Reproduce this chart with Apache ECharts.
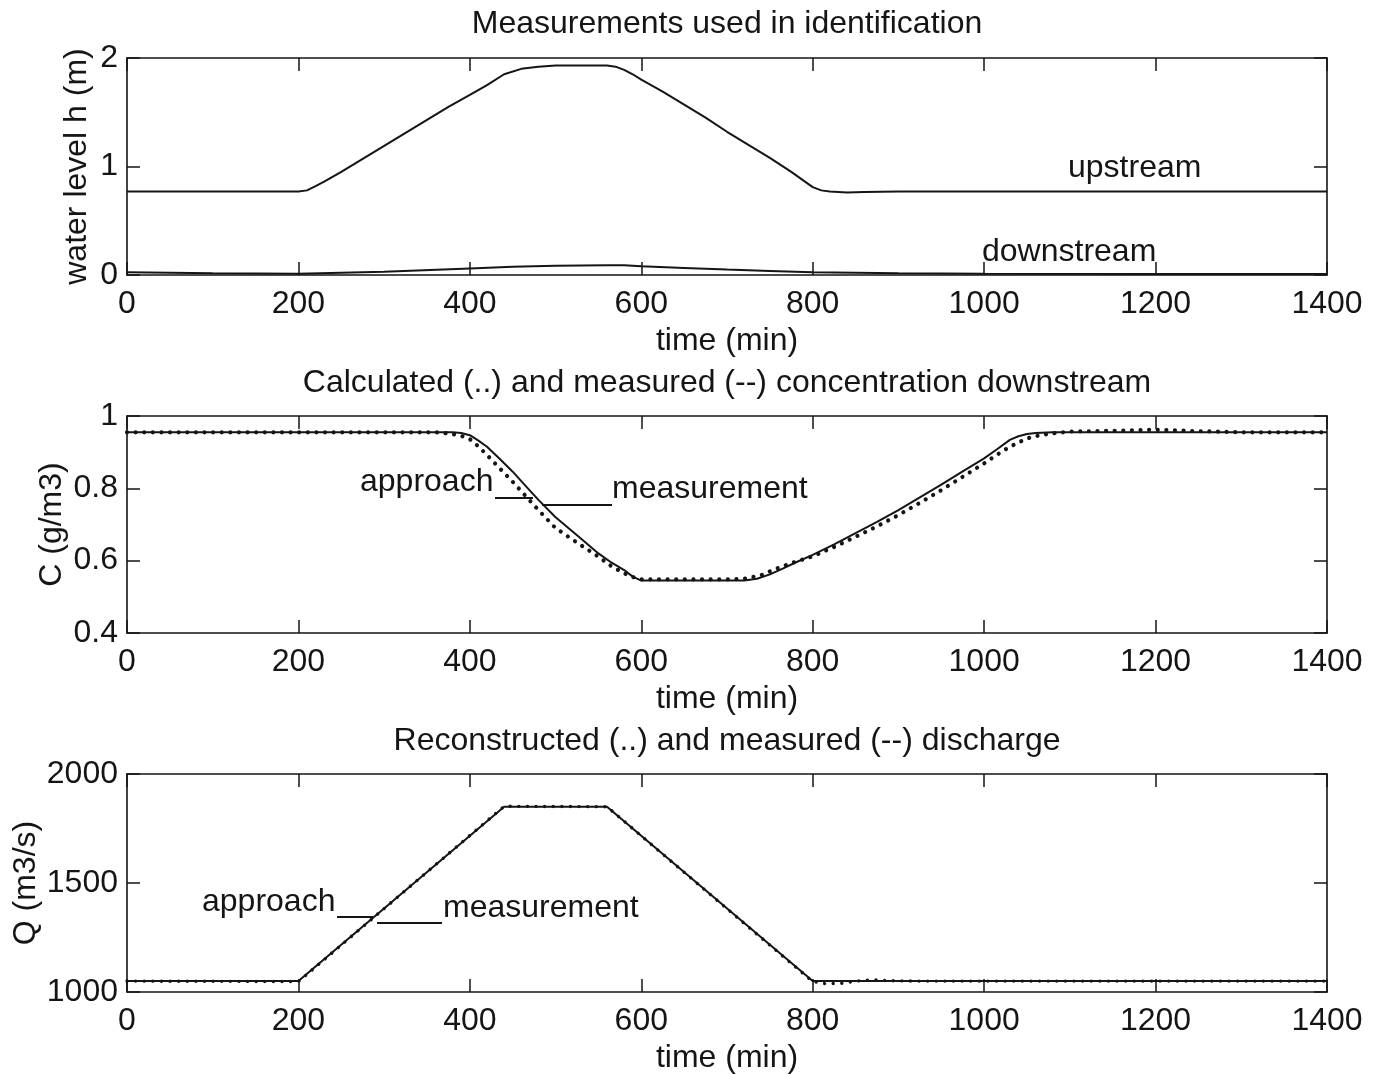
<!DOCTYPE html>
<html>
<head>
<meta charset="utf-8">
<script src="https://cdn.jsdelivr.net/npm/echarts@6/dist/echarts.min.js"></script>
<style>
  html, body { margin: 0; padding: 0; background: #fff; }
  #chart { width: 1383px; height: 1074px; }
</style>
</head>
<body>
<div id="chart"></div>
<script>
// ---- Panel 1: water levels (m) ----
const timeUp = [0,100,200,210,220,230,250,275,300,325,350,375,400,420,440,460,480,500,530,560,570,580,590,600,625,650,675,700,725,750,775,800,810,820,840,860,900,1000,1200,1400];
const upstream = [0.77,0.77,0.77,0.78,0.82,0.86,0.95,1.07,1.19,1.31,1.43,1.55,1.66,1.75,1.85,1.90,1.92,1.93,1.93,1.93,1.92,1.89,1.85,1.80,1.69,1.57,1.45,1.32,1.20,1.08,0.95,0.81,0.78,0.77,0.76,0.765,0.77,0.77,0.77,0.77];
const timeDown = [0,100,200,300,400,450,500,560,580,600,650,700,750,800,900,1000,1200,1400];
const downstream = [0.025,0.015,0.012,0.03,0.06,0.075,0.086,0.09,0.09,0.08,0.065,0.05,0.038,0.025,0.015,0.012,0.01,0.01];

// ---- Panel 2: concentration downstream (g/m3) ----
const timeCMeas = [0,200,380,390,400,410,420,435,450,465,480,500,525,550,565,580,590,600,650,700,720,735,750,765,780,800,825,850,875,900,925,950,975,1000,1015,1030,1040,1050,1060,1080,1100,1200,1300,1400];
const concMeasured = [0.955,0.955,0.955,0.953,0.947,0.932,0.915,0.881,0.846,0.807,0.768,0.72,0.67,0.62,0.595,0.574,0.556,0.545,0.545,0.545,0.545,0.55,0.562,0.578,0.595,0.616,0.645,0.676,0.707,0.74,0.775,0.81,0.847,0.883,0.908,0.934,0.944,0.95,0.953,0.955,0.955,0.955,0.955,0.955];
const timeCCalc = [0,200,360,370,380,390,400,410,420,435,450,465,480,500,525,550,565,580,590,600,650,700,720,740,760,780,800,825,850,875,900,925,950,975,1000,1015,1030,1050,1065,1080,1100,1150,1200,1250,1300,1400];
const concCalculated = [0.955,0.955,0.955,0.953,0.95,0.945,0.936,0.916,0.892,0.855,0.818,0.779,0.74,0.69,0.65,0.611,0.585,0.565,0.555,0.548,0.548,0.548,0.55,0.56,0.58,0.597,0.612,0.638,0.666,0.695,0.726,0.76,0.795,0.832,0.869,0.893,0.915,0.938,0.947,0.952,0.957,0.959,0.962,0.958,0.955,0.955];

// ---- Panel 3: discharge (m3/s) ----
const timeQMeas = [0,200,440,560,800,1400];
const dischargeMeasured = [1050,1050,1850,1850,1050,1050];
const timeQRec = [0,200,440,560,800,815,835,850,870,890,920,1000,1400];
const dischargeReconstructed = [1050,1048,1852,1850,1048,1038,1040,1050,1056,1052,1050,1050,1050];

// ---- Axis ticks ----
const timeTicks = { min: 0, max: 1400, interval: 200 };
const levelTicks = { min: 0, max: 2, interval: 1 };
const concTicks = { min: 0.4, max: 1, interval: 0.2 };
const dischargeTicks = { min: 1000, max: 2000, interval: 500 };

const titles = [
  'Measurements used in identification',
  'Calculated (..) and measured (--) concentration downstream',
  'Reconstructed (..) and measured (--) discharge'
];

const FONT = '"Liberation Sans", Arial, sans-serif';
const FS = 32;
const INK = '#151515';

const pairs = (xs, ys) => xs.map((x, i) => [x, ys[i]]);
const plain = v => String(Math.round(v * 1000) / 1000);

const grids = [
  { left: 127, top: 58, width: 1200, height: 217 },
  { left: 127, top: 416, width: 1200, height: 217 },
  { left: 127, top: 774, width: 1200, height: 218 }
].map(g => Object.assign(g, { containLabel: false, outerBoundsMode: 'none' }));

const axisLine = { show: true, onZero: false, lineStyle: { color: INK, width: 1.6 } };
const tickIn = { show: true, inside: true, length: 13, lineStyle: { color: INK, width: 1.5 } };

function bottomAxis(g) {
  return Object.assign({
    type: 'value', gridIndex: g, position: 'bottom',
    axisLine, axisTick: tickIn, splitLine: { show: false },
    axisLabel: { color: INK, fontSize: FS, fontFamily: FONT, margin: 13, formatter: plain },
    name: 'time (min)', nameLocation: 'middle', nameGap: 50,
    nameTextStyle: { color: INK, fontSize: FS, fontFamily: FONT }
  }, timeTicks);
}
function topAxis(g) {
  return Object.assign({
    type: 'value', gridIndex: g, position: 'top',
    axisLine, axisTick: tickIn, splitLine: { show: false },
    axisLabel: { show: false }
  }, timeTicks);
}
function leftAxis(g, ticks, name, gap) {
  return Object.assign({
    type: 'value', gridIndex: g, position: 'left',
    axisLine, axisTick: tickIn, splitLine: { show: false },
    axisLabel: { color: INK, fontSize: FS, fontFamily: FONT, margin: 9, formatter: plain },
    name, nameLocation: 'middle', nameGap: gap, nameMoveOverlap: false,
    nameTextStyle: { color: INK, fontSize: FS, fontFamily: FONT }
  }, ticks);
}
function rightAxis(g, ticks) {
  return Object.assign({
    type: 'value', gridIndex: g, position: 'right',
    axisLine, axisTick: tickIn, splitLine: { show: false },
    axisLabel: { show: false }
  }, ticks);
}

const solid = { color: INK, width: 2 };
const dots = (w, gap) => ({ color: INK, width: w, type: [0.01, gap], cap: 'round' });

function lineSeries(xi, yi, data, style) {
  return {
    type: 'line', xAxisIndex: xi, yAxisIndex: yi, data,
    showSymbol: false, symbol: 'none', smooth: false, silent: true,
    lineStyle: style, animation: false
  };
}

const textEl = (x, y, text) => ({
  type: 'text', x, y, silent: true,
  style: { text, fill: INK, font: FS + 'px ' + FONT, verticalAlign: 'middle', align: 'left' }
});
const segEl = (x1, y1, x2, y2) => ({
  type: 'line', silent: true,
  shape: { x1, y1, x2, y2 }, style: { stroke: INK, lineWidth: 2 }
});

const option = {
  backgroundColor: '#ffffff',
  animation: false,
  title: titles.map((t, i) => ({
    text: t, left: 727, textAlign: 'center', top: [8, 367, 725][i], padding: 0,
    textStyle: { color: INK, fontSize: FS, fontWeight: 'normal', fontFamily: FONT }
  })),
  grid: grids,
  xAxis: [bottomAxis(0), topAxis(0), bottomAxis(1), topAxis(1), bottomAxis(2), topAxis(2)],
  yAxis: [
    leftAxis(0, levelTicks, 'water level h (m)', 34), rightAxis(0, levelTicks),
    leftAxis(1, concTicks, 'C (g/m3)', 59), rightAxis(1, concTicks),
    leftAxis(2, dischargeTicks, 'Q (m3/s)', 85), rightAxis(2, dischargeTicks)
  ],
  series: [
    lineSeries(0, 0, pairs(timeUp, upstream), solid),
    lineSeries(0, 0, pairs(timeDown, downstream), solid),
    lineSeries(2, 2, pairs(timeCMeas, concMeasured), solid),
    lineSeries(2, 2, pairs(timeCCalc, concCalculated), dots(4.2, 8.6)),
    lineSeries(4, 4, pairs(timeQMeas, dischargeMeasured), solid),
    lineSeries(4, 4, pairs(timeQRec, dischargeReconstructed), dots(3.4, 8.6))
  ],
  graphic: [
    textEl(1068, 168, 'upstream'),
    textEl(982, 252, 'downstream'),
    textEl(360, 482, 'approach'),
    segEl(495, 498, 533, 498),
    segEl(542, 505, 612, 505),
    textEl(612, 489, 'measurement'),
    textEl(202, 902, 'approach'),
    segEl(337, 917, 373, 917),
    segEl(377, 923, 442, 923),
    textEl(443, 908, 'measurement')
  ]
};

const chart = echarts.init(document.getElementById('chart'), null, { renderer: 'canvas' });
chart.setOption(option);
</script>
</body>
</html>
